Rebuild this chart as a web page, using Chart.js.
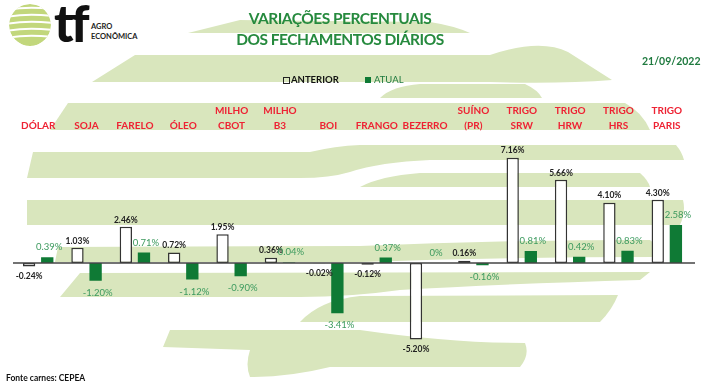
<!DOCTYPE html>
<html>
<head>
<meta charset="utf-8">
<script src="https://cdn.jsdelivr.net/npm/chart.js@4.4.0/dist/chart.umd.min.js"></script>
<style>
  body { margin: 0; width: 710px; height: 390px; overflow: hidden; background: #fff; font-family: Lato, sans-serif; position: relative; }
  #bg { position: absolute; left: 0; top: 0; z-index: 0; }
  #wrap { position: absolute; left: 0; top: 0; width: 710px; height: 390px; z-index: 1; }
  .txt { position: absolute; white-space: nowrap; z-index: 2; }
  .title { left: 0; width: 680px; text-align: center; color: #268a3e; font-weight: bold; font-size: 15.5px; letter-spacing: -0.5px; line-height: 18px; }
  .date { left: 642px; top: 55px; color: #1f7a3f; font-weight: bold; font-size: 10.5px; line-height: 13px; }
  .leg { top: 74px; font-size: 9.5px; line-height: 12px; font-weight: bold; }
  .box { position: absolute; width: 6px; height: 6px; z-index: 2; }
  .foot { left: 6px; top: 372px; font-size: 8.5px; line-height: 12px; font-weight: bold; color: #111; }
</style>
</head>
<body>
<svg id="bg" width="710" height="390">
  <g fill="#d9e6bd">
    <path d="M188,33 L240,20 L430,22 Q455,26 470,33 Z"/>
    <path d="M92,82 L135,55 L490,55 Q540,38 568,52 L612,80 Q560,84 490,82 Z"/>
    <path d="M380,98 Q392,86 420,84 L525,84 Q538,90 542,98 Z"/>
    <path d="M50,130 L68,103 L625,103 Q642,112 650,130 Z"/>
    <path d="M27,178 L33,152 L310,152 Q335,146 360,145 L676,145 Q682,152 684,160 L430,160 Q380,162 350,172 Q330,178 300,178 Z"/>
    <path d="M360,187 Q380,176 420,173 L640,173 Q648,180 650,187 Z"/>
    <path d="M27,225 L27,200 L683,200 Q686,212 680,225 Z"/>
    <path d="M55,262 L58,247 L360,246 Q500,240 650,240 L662,250 L655,257 Q500,257 360,262 Z"/>
    <path d="M60,297 L80,273 L650,272 L640,280 Q500,284 400,290 Q350,297 300,297 Z"/>
    <path d="M300,322 Q320,300 360,296 L618,295 Q612,310 600,322 Z"/>
    <path d="M163,347 L170,330 L360,330 Q450,343 525,343 Q530,355 520,367 L330,367 Q290,377 250,377 Q245,365 250,350 Z"/>
  </g>
  <defs><clipPath id="lc"><circle cx="30" cy="25" r="21"/></clipPath></defs>
  <g clip-path="url(#lc)">
    <circle cx="30" cy="25" r="21" fill="#c2d77c"/>
    <g stroke="#fff" stroke-width="2" fill="none">
      <path d="M6,10 Q26,6 54,9"/>
      <path d="M6,17 Q26,13 54,16"/>
      <path d="M6,24 Q26,20 54,23"/>
      <path d="M6,31 Q26,27 54,30"/>
      <path d="M6,38 Q26,34 54,37"/>
    </g>
  </g>
  <text x="54" y="42" font-family="Lato" font-weight="900" font-size="52" letter-spacing="-3" fill="#111">tf</text>
  <text x="91" y="29" font-family="Lato" font-weight="bold" font-size="7.5" fill="#222">AGRO</text>
  <text x="91" y="39" font-family="Lato" font-weight="bold" font-size="7.5" fill="#222">ECONÔMICA</text>
</svg>

<div class="txt title" style="top:9px">VARIAÇÕES PERCENTUAIS</div>
<div class="txt title" style="top:30px">DOS FECHAMENTOS DIÁRIOS</div>
<div class="txt date">21/09/2022</div>
<div class="box" style="left:283px;top:77px;border:1px solid #222;width:5px;height:5px"></div>
<div class="txt leg" style="left:291px;color:#111">ANTERIOR</div>
<div class="box" style="left:365px;top:77px;background:#0f7a35"></div>
<div class="txt leg" style="left:374px;color:#1f7a3f;font-weight:normal">ATUAL</div>
<div class="txt foot">Fonte carnes: CEPEA</div>

<div id="wrap"><canvas id="chart"></canvas></div>

<script>
// categorias (linhas do rótulo) e variações em %
const CATEGORIES = [
  ['DÓLAR'], ['SOJA'], ['FARELO'], ['ÓLEO'], ['MILHO', 'CBOT'], ['MILHO', 'B3'], ['BOI'],
  ['FRANGO'], ['BEZERRO'], ['SUÍNO', '(PR)'], ['TRIGO', 'SRW'], ['TRIGO', 'HRW'], ['TRIGO', 'HRS'], ['TRIGO', 'PARIS']
];
const ANTERIOR = [-0.24, 1.03, 2.46, 0.72, 1.95, 0.36, -0.02, -0.12, -5.20, 0.16, 7.16, 5.66, 4.10, 4.30];
const ATUAL    = [0.39, -1.20, 0.71, -1.12, -0.90, 0.04, -3.41, 0.37, 0, -0.16, 0.81, 0.42, 0.83, 2.58];

const Y_MIN = -8;
const Y_MAX = 10;

function fmtPct(v) {
  return v === 0 ? '0%' : v.toFixed(2) + '%';
}

const labelPlugin = {
  id: 'labelPlugin',
  afterDatasetsDraw(chart) {
    const { ctx, chartArea } = chart;
    const xs = chart.scales.x, ys = chart.scales.y;
    const y0 = ys.getPixelForValue(0);

    ctx.save();
    // linha do zero
    ctx.strokeStyle = '#444';
    ctx.lineWidth = 1.5;
    ctx.beginPath();
    ctx.moveTo(chartArea.left - 1, y0);
    ctx.lineTo(chartArea.right + 4, y0);
    ctx.stroke();

    // rótulos de valor
    ctx.textAlign = 'center';
    ctx.textBaseline = 'middle';
    const styles = [
      { font: 'bold 8.5px Lato', color: '#222', up: 7, down: 10, dx: 0 },
      { font: '9.5px Lato', color: '#3c9a5e', up: 10, down: 12, dx: 2 }
    ];
    chart.data.datasets.forEach((ds, di) => {
      const st = styles[di];
      ctx.font = st.font;
      ctx.fillStyle = st.color;
      chart.getDatasetMeta(di).data.forEach((bar, i) => {
        const v = ds.data[i];
        const yy = v >= 0 ? bar.y - st.up : bar.y + st.down;
        ctx.fillText(fmtPct(v), bar.x + st.dx, yy);
      });
    });

    // nomes das categorias
    ctx.font = 'bold 10px Lato';
    ctx.fillStyle = '#ee2233';
    CATEGORIES.forEach((lines, i) => {
      const cx = xs.getPixelForValue(i);
      const n = lines.length;
      lines.forEach((t, li) => {
        ctx.fillText(t, cx, 126 - (n - 1 - li) * 15);
      });
    });
    ctx.restore();
  }
};

new Chart(document.getElementById('chart'), {
  type: 'bar',
  data: {
    labels: CATEGORIES.map(c => c.join(' ')),
    datasets: [
      { label: 'ANTERIOR', data: ANTERIOR, backgroundColor: '#fff', borderColor: '#333', borderWidth: 1.5, borderSkipped: false },
      { label: 'ATUAL', data: ATUAL, backgroundColor: '#0f7a35', borderWidth: 0 }
    ]
  },
  options: {
    responsive: true,
    maintainAspectRatio: false,
    animation: false,
    layout: { padding: { left: 14, right: 19, top: 116, bottom: 9.4 } },
    datasets: { bar: { categoryPercentage: 0.75, barPercentage: 0.68 } },
    plugins: { legend: { display: false }, tooltip: { enabled: false } },
    scales: {
      x: { display: false },
      y: { display: false, min: Y_MIN, max: Y_MAX }
    }
  },
  plugins: [labelPlugin]
});
</script>
</body>
</html>
